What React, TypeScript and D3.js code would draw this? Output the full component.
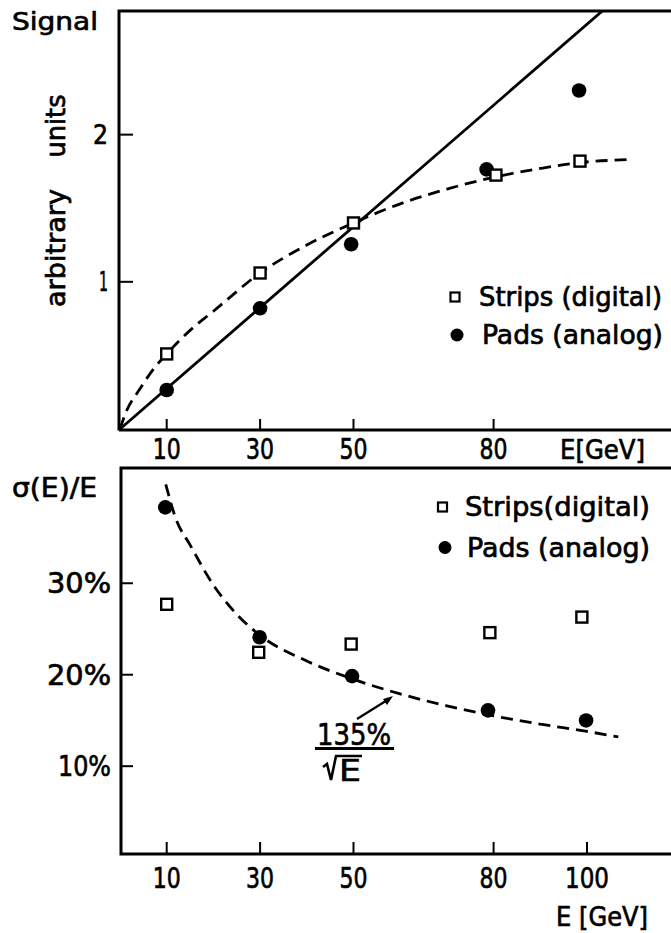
import React from "react";
import * as d3 from "d3";

// ---------- data ----------
const energyTicksTop = [10, 30, 50, 80];
const energyTicksBottom = [10, 30, 50, 80, 100];
const signalTicks = [1, 2];
const resolutionTicks = [10, 20, 30];

// top panel: signal (arbitrary units)
const stripsSignalE = [10, 30, 50, 80.5, 98.5];
const stripsSignal = [0.51, 1.06, 1.4, 1.725, 1.82];
const padsSignalE = [10, 30, 49.5, 78.5, 98.3];
const padsSignal = [0.265, 0.82, 1.255, 1.764, 2.3];
const linearFitE = [0, 112];
const linearFitV = [0, 3.08];
const digitalFitE = [0, 1.5, 4, 7, 10, 15, 20, 30, 40, 50, 60, 70, 80, 90, 98.5, 108.8];
const digitalFitV = [0, 0.13, 0.26, 0.4, 0.51, 0.67, 0.8, 1.06, 1.25, 1.4, 1.53, 1.63, 1.71, 1.77, 1.81, 1.83];

// bottom panel: resolution sigma(E)/E in %
const stripsResE = [10, 29.7, 49.5, 79.2, 98.9];
const stripsRes = [27.7, 22.45, 23.35, 24.6, 26.3];
const padsResE = [9.7, 29.9, 49.7, 78.8, 99.8];
const padsRes = [38.3, 24.1, 19.85, 16.1, 15.0];
const sqrtFitE = [9.8, 12, 15, 20, 25, 30, 40, 50, 60, 70, 80, 90, 100, 106.7];
const sqrtFitV = [40.8, 37.0, 34.2, 29.8, 26.6, 24.3, 21.5, 19.5, 17.9, 16.6, 15.5, 14.6, 13.8, 13.2];

const FONT = "'DejaVu Sans', 'Liberation Sans', sans-serif";

function T({ x, y, children, size = 25, anchor = "start", len, rotate }: any) {
  const tr = rotate ? `rotate(${rotate},${x},${y})` : undefined;
  return (
    <text
      x={x}
      y={y}
      fontSize={size}
      fontFamily={FONT}
      textAnchor={anchor}
      textLength={len}
      lengthAdjust={len ? "spacingAndGlyphs" : undefined}
      transform={tr}
      fill="#000"
      stroke="#000"
      strokeWidth={0.7}
    >
      {children}
    </text>
  );
}

export default function App() {
  const W = 671;
  const H = 933;
  const x = d3.scaleLinear().domain([0, 100]).range([120, 587]);
  const yTop = d3.scaleLinear().domain([0, 2.84]).range([429, 11]);
  const yBot = d3.scaleLinear().domain([0.4, 42.6]).range([854, 468]);

  const lineTop = d3
    .line<[number, number]>()
    .x((d) => x(d[0]))
    .y((d) => yTop(d[1]))
    .curve(d3.curveMonotoneX);
  const lineBot = d3
    .line<[number, number]>()
    .x((d) => x(d[0]))
    .y((d) => yBot(d[1]))
    .curve(d3.curveMonotoneX);

  const linFit = linearFitE.map((e, i) => [e, linearFitV[i]] as [number, number]);
  const digFit = digitalFitE.map((e, i) => [e, digitalFitV[i]] as [number, number]);
  const sqFit = sqrtFitE.map((e, i) => [e, sqrtFitV[i]] as [number, number]);

  const x0 = x(0);
  const topY0 = yTop(0);
  const topY1 = yTop(2.84);
  const botY0 = yBot(0.4);
  const botY1 = yBot(42.6);
  const SW = 3;
  const sq = 11;
  const r = 7.3;

  return (
    <svg
      width={W}
      height={H}
      viewBox={`0 0 ${W} ${H}`}
      style={{ position: "absolute", left: 0, top: 0, background: "#fff" }}
    >
      <rect x={0} y={0} width={W} height={H} fill="#fff" />
      <defs>
        <clipPath id="clipTop">
          <rect x={x0} y={topY1} width={W - x0} height={topY0 - topY1} />
        </clipPath>
      </defs>

      {/* ===== TOP PANEL ===== */}
      <path
        d={`M${x0 - 1},${topY1} H${W} M${x0 - 1},${topY1 - 1.5} V${topY0 + 1.5} M${x0 - 1},${topY0 + 1} H${W}`}
        stroke="#000"
        strokeWidth={SW}
        fill="none"
      />
      {energyTicksTop.map((t) => (
        <g key={"tx" + t}>
          <line x1={x(t)} x2={x(t)} y1={topY0 + 1} y2={topY0 - 10} stroke="#000" strokeWidth={2} />
          <T x={x(t)} y={459} size={29} anchor="middle" len={28}>
            {t}
          </T>
        </g>
      ))}
      <T x={560} y={459} size={27} len={85}>
        E[GeV]
      </T>
      {signalTicks.map((t) => (
        <g key={"ty" + t}>
          <line x1={x0} x2={x0 + 13} y1={yTop(t)} y2={yTop(t)} stroke="#000" strokeWidth={2} />
          <T x={108} y={yTop(t) + 9} size={27} anchor="end" len={t === 1 ? 9 : 15}>
            {t}
          </T>
        </g>
      ))}
      <T x={12} y={30} size={25} len={86}>
        Signal
      </T>
      <T x={65} y={248} size={27} anchor="middle" len={118} rotate={-90}>
        arbitrary
      </T>
      <T x={65} y={126} size={27} anchor="middle" len={63} rotate={-90}>
        units
      </T>

      <g clipPath="url(#clipTop)">
        <path d={lineTop(linFit) || ""} stroke="#000" strokeWidth={2.8} fill="none" />
        <path d={lineTop(digFit) || ""} stroke="#000" strokeWidth={2.8} fill="none" strokeDasharray="12 7" />
      </g>
      {padsSignalE.map((e, i) => (
        <circle key={"pc" + i} cx={x(e)} cy={yTop(padsSignal[i])} r={r} fill="#000" />
      ))}
      {stripsSignalE.map((e, i) => (
        <rect
          key={"sr" + i}
          x={x(e) - sq / 2}
          y={yTop(stripsSignal[i]) - sq / 2}
          width={sq}
          height={sq}
          fill="#fff"
          stroke="#000"
          strokeWidth={2.4}
        />
      ))}
      {/* legend top */}
      <rect x={450.5} y={292.5} width={9} height={9} fill="#fff" stroke="#000" strokeWidth={2.2} />
      <T x={479} y={306} size={26} len={183}>
        Strips (digital)
      </T>
      <circle cx={457} cy={335} r={6.5} fill="#000" />
      <T x={482} y={344} size={26} len={181}>
        Pads (analog)
      </T>

      {/* ===== BOTTOM PANEL ===== */}
      <path
        d={`M${x0},${botY1} H${W} M${x0 + 1},${botY1 - 1.5} V${botY0 + 1.5} M${x0 + 1},${botY0} H${W}`}
        stroke="#000"
        strokeWidth={SW}
        fill="none"
      />
      {energyTicksBottom.map((t) => (
        <g key={"bx" + t}>
          <line x1={x(t)} x2={x(t)} y1={botY0} y2={botY0 - 12} stroke="#000" strokeWidth={2} />
          <T x={x(t)} y={888} size={29} anchor="middle" len={t >= 100 ? 44 : 28}>
            {t}
          </T>
        </g>
      ))}
      <T x={556} y={926} size={27} len={92}>
        E [GeV]
      </T>
      {resolutionTicks.map((t) => (
        <g key={"by" + t}>
          <line x1={x0 + 1} x2={x0 + 13} y1={yBot(t)} y2={yBot(t)} stroke="#000" strokeWidth={2} />
          <T x={111} y={yBot(t) + 10} size={29} anchor="end" len={t === 10 ? 53 : 64}>
            {t + "%"}
          </T>
        </g>
      ))}
      <T x={12} y={497} size={27} len={85}>
        σ(E)/E
      </T>

      <path d={lineBot(sqFit) || ""} stroke="#000" strokeWidth={2.8} fill="none" strokeDasharray="12 7" />
      {padsResE.map((e, i) => (
        <circle key={"bpc" + i} cx={x(e)} cy={yBot(padsRes[i])} r={r} fill="#000" />
      ))}
      {stripsResE.map((e, i) => (
        <rect
          key={"bsr" + i}
          x={x(e) - sq / 2}
          y={yBot(stripsRes[i]) - sq / 2}
          width={sq}
          height={sq}
          fill="#fff"
          stroke="#000"
          strokeWidth={2.4}
        />
      ))}

      {/* annotation 135%/sqrt(E) */}
      <line x1={357} y1={719} x2={389} y2={699} stroke="#000" strokeWidth={2.2} />
      <path d="M393,696 L383,699 L387,705 Z" fill="#000" />
      <T x={317} y={745} size={31} len={74}>
        135%
      </T>
      <line x1={315} x2={394} y1={748.5} y2={748.5} stroke="#000" strokeWidth={2.8} />
      <path d="M323,767 L327,764 L331,780 L336,756 H362" stroke="#000" strokeWidth={2.6} fill="none" />
      <T x={339} y={781} size={31} len={22}>
        E
      </T>

      {/* legend bottom */}
      <rect x={438} y={502.5} width={9} height={9} fill="#fff" stroke="#000" strokeWidth={2.2} />
      <T x={465} y={516} size={26} len={185}>
        Strips(digital)
      </T>
      <circle cx={445} cy={547.5} r={6.5} fill="#000" />
      <T x={467} y={557} size={26} len={183}>
        Pads (analog)
      </T>
    </svg>
  );
}
